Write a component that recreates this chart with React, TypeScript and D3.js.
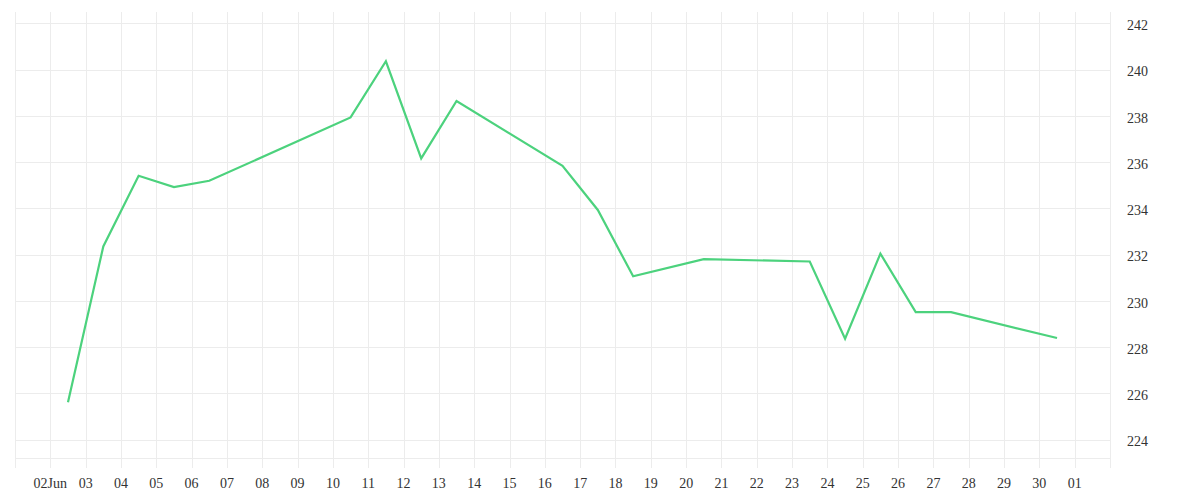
import React from "react";
import * as d3 from "d3";

// Data (daily closing values, June 2016)
const dates: string[] = [
  "2016-06-02", "2016-06-03", "2016-06-04", "2016-06-05", "2016-06-06",
  "2016-06-10", "2016-06-11", "2016-06-12", "2016-06-13", "2016-06-16",
  "2016-06-17", "2016-06-18", "2016-06-20", "2016-06-23", "2016-06-24",
  "2016-06-25", "2016-06-26", "2016-06-27", "2016-06-30",
];
const values: number[] = [
  225.61, 232.35, 235.41, 234.92, 235.19,
  237.93, 240.36, 236.16, 238.64, 235.84,
  233.93, 231.06, 231.8, 231.7, 228.36,
  232.04, 229.51, 229.51, 228.39,
];
const yTicks: number[] = [224, 226, 228, 230, 232, 234, 236, 238, 240, 242];
const xDomain: string[] = ["2016-06-01", "2016-07-02"];
const yDomain: number[] = [222.77, 242.49];

const W = 1200;
const H = 500;
const left = 15;
const right = 1110;
const top = 12;
const bottom = 468;

const parse = (s: string, hour = 0) => {
  const [y, m, d] = s.split("-").map(Number);
  return new Date(y, m - 1, d, hour);
};

export default function App() {
  const x = d3
    .scaleTime()
    .domain([parse(xDomain[0]), parse(xDomain[1])])
    .range([left, right]);
  const y = d3.scaleLinear().domain(yDomain).range([bottom, top]);

  const pts = dates.map((d, i) => ({ date: parse(d, 12), value: values[i] }));
  const line = d3
    .line<{ date: Date; value: number }>()
    .x((d) => x(d.date))
    .y((d) => y(d.value));

  const dayTicks = d3.timeDay.range(parse(xDomain[0]), d3.timeDay.offset(parse(xDomain[1]), 1));
  const fmtFirst = d3.timeFormat("%d%b");
  const fmtDay = d3.timeFormat("%d");
  const grid = "#ececec";
  const font = "'Liberation Serif', serif";

  return (
    <svg
      width={W}
      height={H}
      style={{ position: "absolute", left: 0, top: 0, background: "#fff" }}
    >
      {/* vertical grid lines */}
      {dayTicks.map((t, i) => (
        <line
          key={"v" + i}
          x1={Math.round(x(t)) + 0.5}
          x2={Math.round(x(t)) + 0.5}
          y1={top}
          y2={bottom}
          stroke={grid}
          strokeWidth={1}
        />
      ))}
      {/* horizontal grid lines */}
      {yTicks.map((v) => (
        <line
          key={"h" + v}
          x1={left}
          x2={right}
          y1={Math.round(y(v)) + 0.5}
          y2={Math.round(y(v)) + 0.5}
          stroke={grid}
          strokeWidth={1}
        />
      ))}
      {/* x axis domain line */}
      <line
        x1={left}
        x2={right}
        y1={bottom - 10 + 0.5}
        y2={bottom - 10 + 0.5}
        stroke={grid}
        strokeWidth={1}
      />
      {/* x labels */}
      {dayTicks
        .filter((t, i) => i > 0 && x(t) < right - 5)
        .map((t, i) => (
          <text
            key={"xl" + i}
            x={x(t)}
            y={488}
            textAnchor="middle"
            fontFamily={font}
            fontSize={14}
            fill="#333"
          >
            {i === 0 ? fmtFirst(t) : fmtDay(t)}
          </text>
        ))}
      {/* y labels */}
      {yTicks.map((v) => (
        <text
          key={"yl" + v}
          x={1127}
          y={y(v) + 6.7}
          textAnchor="start"
          fontFamily={font}
          fontSize={14}
          fill="#333"
        >
          {v}
        </text>
      ))}
      <path
        d={line(pts) || ""}
        fill="none"
        stroke="#4cd27d"
        strokeWidth={2.2}
        strokeLinejoin="miter"
      />
    </svg>
  );
}
